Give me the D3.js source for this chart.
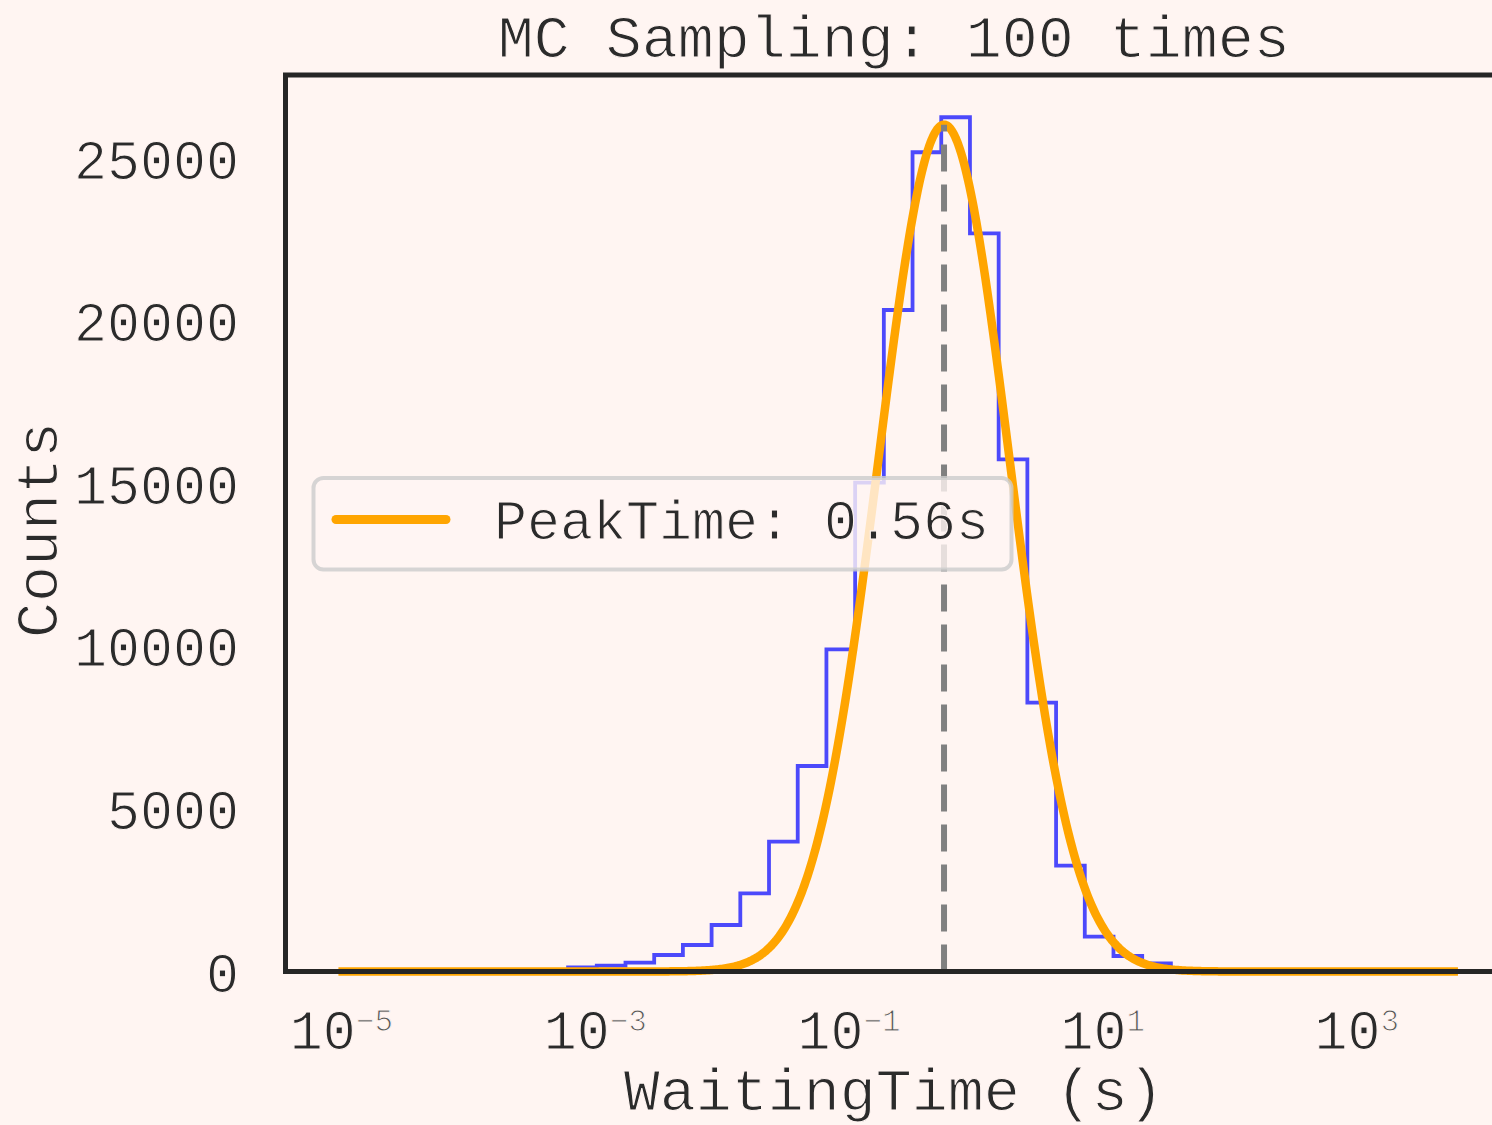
<!DOCTYPE html>
<html>
<head>
<meta charset="utf-8">
<script src="https://cdn.jsdelivr.net/npm/d3@7"></script>
<style>
  html, body { margin: 0; padding: 0; background: #fff5f2; }
  svg { display: block; }
  /* thin monospace look: a background-coloured outline trims the glyph strokes */
  text { font-family: "Liberation Mono", "Courier New", monospace; fill: #2b2b2b;
         stroke: #fff5f2; stroke-width: 1.1px; paint-order: fill; }
</style>
</head>
<body>
<svg id="chart" width="1492" height="1125"></svg>
<script>
// Histogram of sampled waiting times: 39 log-spaced bins between 10^binLogLo and 10^binLogHi
const binLogLo = -5.024;
const binLogHi = 3.798;
const binCounts = [
  1, 1, 2, 2, 4, 6, 11, 25,
  123, 178, 271, 508, 815, 1431, 2406, 3994, 6323, 9914,
  15040, 20354, 25207, 26284, 22714, 15760, 8271, 3255, 1071, 477,
  252, 70, 21, 7, 3, 1, 1, 0, 0, 0, 1
];

// Log-normal fit (Gaussian in log10 time): amplitude, peak time, width in decades
const fitAmplitude = 26056;
const peakTime = 0.56;
const fitSigmaDecades = 0.515;

const xTickExponents = [-5, -3, -1, 1, 3];
const yTickValues = [0, 5000, 10000, 15000, 20000, 25000];

const titleText = "MC Sampling: 100 times";
const xLabelText = "WaitingTime (s)";
const yLabelText = "Counts";
const legendText = "PeakTime: " + peakTime.toFixed(2) + "s";

// Layout
const plot = { left: 285.5, right: 1502, top: 75, bottom: 971.5 };
const xLogDomain = [-5.441, 4.145];
const yMax = 27584;

const svg = d3.select("#chart");
svg.append("rect").attr("width", 1492).attr("height", 1125).attr("fill", "#fff5f2");

const x = d3.scaleLog()
  .domain(xLogDomain.map(e => Math.pow(10, e)))
  .range([plot.left, plot.right]);
const y = d3.scaleLinear().domain([0, yMax]).range([plot.bottom, plot.top]);

const nBins = binCounts.length;
const binEdges = d3.range(nBins + 1).map(i => Math.pow(10, binLogLo + (binLogHi - binLogLo) * i / nBins));

const g = svg.append("g");

// Step outline of the histogram
const stepPts = [[binEdges[0], 0]];
binCounts.forEach((c, i) => {
  stepPts.push([binEdges[i], c]);
  stepPts.push([binEdges[i + 1], c]);
});
stepPts.push([binEdges[nBins], 0]);

const line = d3.line().x(d => x(d[0])).y(d => y(d[1]));

g.append("path")
  .attr("d", line(stepPts))
  .attr("fill", "none")
  .attr("stroke", "#0000ff")
  .attr("stroke-opacity", 0.7)
  .attr("stroke-width", 3.8)
  .attr("stroke-linejoin", "miter");

// Fitted curve evaluated across the binned range
const mu = Math.log10(peakTime);
const curvePts = d3.range(0, 801).map(i => {
  const lx = binLogLo + (binLogHi - binLogLo) * i / 800;
  const v = fitAmplitude * Math.exp(-0.5 * Math.pow((lx - mu) / fitSigmaDecades, 2));
  return [Math.pow(10, lx), v];
});
g.append("path")
  .attr("d", line(curvePts))
  .attr("fill", "none")
  .attr("stroke", "#ffa500")
  .attr("stroke-width", 8.5)
  .attr("stroke-linejoin", "round");

// Peak marker
g.append("line")
  .attr("x1", x(peakTime)).attr("x2", x(peakTime))
  .attr("y1", y(0)).attr("y2", y(fitAmplitude))
  .attr("stroke", "#808080")
  .attr("stroke-width", 6)
  .attr("stroke-dasharray", "27,13");

// Legend
const lg = svg.append("g");
lg.append("rect")
  .attr("x", 313.5).attr("y", 478).attr("width", 698).attr("height", 91.5)
  .attr("rx", 10).attr("ry", 10)
  .attr("fill", "#fff5f2").attr("fill-opacity", 0.8)
  .attr("stroke", "#cccccc").attr("stroke-opacity", 0.8).attr("stroke-width", 4);
lg.append("line")
  .attr("x1", 336).attr("x2", 446).attr("y1", 519.5).attr("y2", 519.5)
  .attr("stroke", "#ffa500").attr("stroke-width", 9).attr("stroke-linecap", "round");
lg.append("text")
  .attr("x", 494).attr("y", 539)
  .attr("font-size", 55)
  .text(legendText);

// Frame (no right spine inside the visible area)
const frame = svg.append("g").attr("stroke", "#262626").attr("stroke-width", 5).attr("fill", "none");
frame.append("path")
  .attr("d", `M${plot.right},${plot.top}H${plot.left}V${plot.bottom}H${plot.right}Z`)
  .attr("stroke-linejoin", "miter");

// Y tick labels
svg.append("g").selectAll("text").data(yTickValues).join("text")
  .attr("x", 239)
  .attr("y", d => y(d) + 20)
  .attr("text-anchor", "end")
  .attr("font-size", 55)
  .text(d => d);

// X tick labels as powers of ten
const xt = svg.append("g").selectAll("text").data(xTickExponents).join("text")
  .attr("x", d => x(Math.pow(10, d)))
  .attr("y", 1049)
  .attr("text-anchor", "middle")
  .attr("font-size", 55);
xt.append("tspan").text("10");
xt.append("tspan")
  .attr("dy", -18)
  .attr("font-size", 31)
  .attr("fill", "#555")
  .text(d => (d < 0 ? "\u2212" : "") + Math.abs(d));

// Axis labels and title
const cx = (plot.left + plot.right) / 2;
svg.append("text").attr("x", cx).attr("y", 1110)
  .attr("text-anchor", "middle").attr("font-size", 60).text(xLabelText);
svg.append("text").attr("transform", "translate(57,530) rotate(-90)")
  .attr("text-anchor", "middle").attr("font-size", 60).text(yLabelText);
svg.append("text").attr("x", cx).attr("y", 57)
  .attr("text-anchor", "middle").attr("font-size", 60).text(titleText);
</script>
</body>
</html>
